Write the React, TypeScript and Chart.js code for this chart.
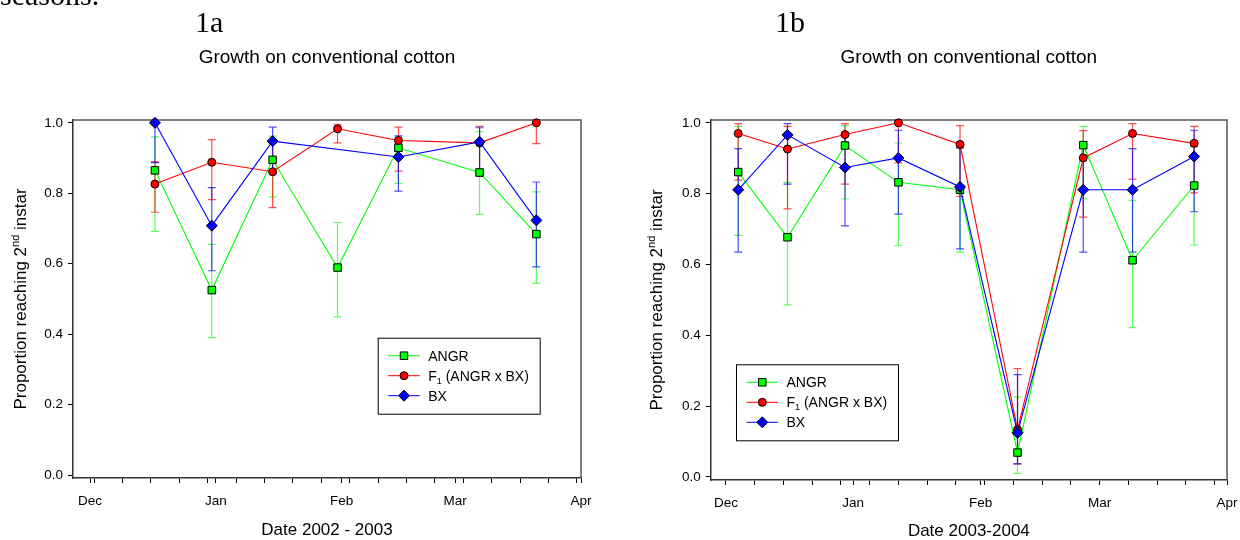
import React, { useEffect, useRef } from "react";
import { Chart, registerables } from "chart.js";

Chart.register(...registerables);

// ---------------- Data: panel 1a (2002 - 2003) ----------------
const datesA = ["2002-12-17", "2002-12-31", "2003-01-15", "2003-01-31", "2003-02-15", "2003-03-07", "2003-03-21"];
const angrA = [0.865, 0.525, 0.895, 0.589, 0.929, 0.859, 0.684];
const angrAHi = [0.96, 0.655, 0.962, 0.717, 0.952, 0.975, 0.804];
const angrALo = [0.692, 0.39, 0.789, 0.449, 0.828, 0.74, 0.544];
const f1A = [0.826, 0.888, 0.861, 0.983, 0.95, 0.943, 1.0];
const f1AHi = [0.89, 0.952, 0.942, 0.996, 0.988, 0.99, 1.0];
const f1ALo = [0.746, 0.782, 0.759, 0.943, 0.863, 0.848, 0.941];
const bxA = [1.0, 0.708, 0.948, null, 0.903, 0.946, 0.723];
const bxAHi = [1.0, 0.816, 0.988, null, 0.963, 0.986, 0.832];
const bxALo = [0.887, 0.58, 0.863, null, 0.806, 0.853, 0.591];
const monthStartsA = ["2002-12-01", "2003-01-01", "2003-02-01", "2003-03-01", "2003-04-01"];

// ---------------- Data: panel 1b (2003 - 2004) ----------------
const datesB = ["2003-12-04", "2003-12-16", "2003-12-30", "2004-01-12", "2004-01-27", "2004-02-10", "2004-02-26", "2004-03-09", "2004-03-24"];
const angrB = [0.861, 0.677, 0.936, 0.832, 0.811, 0.069, 0.937, 0.612, 0.823];
const angrBHi = [0.99, 0.832, 0.992, 0.943, 0.93, 0.226, 0.99, 0.781, 0.932];
const angrBLo = [0.682, 0.486, 0.785, 0.653, 0.635, 0.01, 0.786, 0.422, 0.655];
const f1B = [0.97, 0.926, 0.967, 1.0, 0.939, 0.134, 0.901, 0.97, 0.942];
const f1BHi = [0.998, 0.99, 0.998, 1.0, 0.992, 0.306, 0.978, 0.998, 0.99];
const f1BLo = [0.838, 0.757, 0.827, 0.887, 0.792, 0.037, 0.734, 0.841, 0.802];
const bxB = [0.811, 0.966, 0.874, 0.901, 0.819, 0.125, 0.811, 0.811, 0.905];
const bxBHi = [0.927, 0.998, 0.972, 0.979, 0.929, 0.289, 0.929, 0.927, 0.979];
const bxBLo = [0.635, 0.827, 0.709, 0.742, 0.644, 0.037, 0.635, 0.635, 0.749];
const monthStartsB = ["2003-12-01", "2004-01-01", "2004-02-01", "2004-03-01", "2004-04-01"];

const monthLabels = ["Dec", "Jan", "Feb", "Mar", "Apr"];
const yTickValues = [0, 0.2, 0.4, 0.6, 0.8, 1.0];

const SANS = '"Liberation Sans", Arial, sans-serif';
const SERIF = '"Liberation Serif", "Times New Roman", serif';

type PStyle = "rect" | "circle" | "rectRot";
type Series = {
  name: string;
  values: (number | null)[];
  hi: (number | null)[];
  lo: (number | null)[];
  color: string;
  errColor: string;
  point: PStyle;
  radius: number;
  order: number;
};

type Panel = {
  tag: string;
  title: string;
  xTitle: string;
  dates: string[];
  monthStarts: string[];
  firstMonday: string;
  xMinDays: number;
  series: Series[];
  canvasLeft: number;
  yAxisWidth: number;
  xAxisHeight: number;
  padRight: number;
  tagX: number;
  yTitleX: number;
  xTitleBaseline: number;
  legendX: number;
  legendY: number;
  topText?: string;
};

const GREEN = "#00ff00";
const RED = "#ff0000";
const BLUE = "#0000ff";
const GREEN_ERR = "rgba(40,255,40,0.75)";
const RED_ERR = "rgba(255,0,0,0.7)";
const BLUE_ERR = "rgba(0,0,255,0.7)";

function mkSeries(angr: (number | null)[], angrHi: (number | null)[], angrLo: (number | null)[],
  f1: (number | null)[], f1Hi: (number | null)[], f1Lo: (number | null)[],
  bx: (number | null)[], bxHi: (number | null)[], bxLo: (number | null)[]): Series[] {
  return [
    { name: "ANGR", values: angr, hi: angrHi, lo: angrLo, color: GREEN, errColor: GREEN_ERR, point: "rect", radius: 5.3, order: 3 },
    { name: "F1", values: f1, hi: f1Hi, lo: f1Lo, color: RED, errColor: RED_ERR, point: "circle", radius: 4, order: 2 },
    { name: "BX", values: bx, hi: bxHi, lo: bxLo, color: BLUE, errColor: BLUE_ERR, point: "rectRot", radius: 5.5, order: 1 },
  ];
}

const panelA: Panel = {
  tag: "1a",
  title: "Growth on conventional cotton",
  xTitle: "Date 2002 - 2003",
  dates: datesA,
  monthStarts: monthStartsA,
  firstMonday: "2002-12-02",
  xMinDays: -4.2,
  series: mkSeries(angrA, angrAHi, angrALo, f1A, f1AHi, f1ALo, bxA, bxAHi, bxALo),
  canvasLeft: 0,
  yAxisWidth: 73,
  xAxisHeight: 62,
  padRight: 39,
  tagX: 195,
  yTitleX: 20,
  xTitleBaseline: 535,
  legendX: 377.7,
  legendY: 337.7,
  topText: "seasons.",
};

const panelB: Panel = {
  tag: "1b",
  title: "Growth on conventional cotton",
  xTitle: "Date 2003-2004",
  dates: datesB,
  monthStarts: monthStartsB,
  firstMonday: "2003-12-01",
  xMinDays: -3.7,
  series: mkSeries(angrB, angrBHi, angrBLo, f1B, f1BHi, f1BLo, bxB, bxBHi, bxBLo),
  canvasLeft: 620,
  yAxisWidth: 90.7,
  xAxisHeight: 60,
  padRight: 13,
  tagX: 155,
  yTitleX: 36,
  xTitleBaseline: 536,
  legendX: 116,
  legendY: 364.3,
};

function dayOf(date: string, origin: string): number {
  return (Date.parse(date + "T00:00:00Z") - Date.parse(origin + "T00:00:00Z")) / 86400000;
}

function drawMarker(ctx: CanvasRenderingContext2D, style: PStyle, x: number, y: number, r: number, fill: string) {
  ctx.beginPath();
  if (style === "circle") ctx.arc(x, y, r, 0, Math.PI * 2);
  else if (style === "rect") {
    const s = r * Math.SQRT1_2;
    ctx.rect(x - s, y - s, 2 * s, 2 * s);
  } else {
    ctx.moveTo(x - r, y);
    ctx.lineTo(x, y - r);
    ctx.lineTo(x + r, y);
    ctx.lineTo(x, y + r);
    ctx.closePath();
  }
  ctx.fillStyle = fill;
  ctx.fill();
  ctx.strokeStyle = "#000";
  ctx.lineWidth = 1;
  ctx.stroke();
}

function PanelChart({ p }: { p: Panel }) {
  const ref = useRef<HTMLCanvasElement>(null);
  useEffect(() => {
    const origin = p.monthStarts[0];
    const days = p.dates.map((d) => dayOf(d, origin));
    const majors = p.monthStarts.map((d) => dayOf(d, origin));
    const xMax = majors[majors.length - 1];
    const ticks: number[] = [...majors];
    for (let d = dayOf(p.firstMonday, origin); d <= xMax + 0.01; d += 7) {
      if (!majors.some((m) => Math.abs(m - d) < 0.01)) ticks.push(d);
    }
    ticks.sort((a, b) => a - b);

    const datasets = p.series.map((s) => ({
      label: s.name,
      data: days.map((x, i) => ({ x, y: s.values[i] })),
      borderColor: s.color,
      backgroundColor: s.color,
      borderWidth: 1.1,
      pointStyle: s.point,
      pointRadius: s.radius,
      pointBackgroundColor: s.color,
      pointBorderColor: "#000",
      pointBorderWidth: 1,
      tension: 0,
      spanGaps: true,
      clip: false as any,
      order: s.order,
    }));

    const decor = {
      id: "decor",
      beforeDatasetsDraw(chart: any) {
        const ctx: CanvasRenderingContext2D = chart.ctx;
        const ca = chart.chartArea;
        const xs = chart.scales.x;
        const ys = chart.scales.y;
        ctx.save();
        // frame top & right
        ctx.strokeStyle = "#555";
        ctx.lineWidth = 1.5;
        ctx.beginPath();
        ctx.moveTo(ca.left, ca.top);
        ctx.lineTo(ca.right, ca.top);
        ctx.lineTo(ca.right, ca.bottom);
        ctx.stroke();
        // error bars
        for (const s of p.series) {
          ctx.strokeStyle = s.errColor;
          ctx.lineWidth = 1.2;
          days.forEach((d, i) => {
            const v = s.values[i];
            const hi = s.hi[i];
            const lo = s.lo[i];
            if (v === null || hi === null || lo === null) return;
            const x = xs.getPixelForValue(d);
            const yh = ys.getPixelForValue(hi);
            const yl = ys.getPixelForValue(lo);
            ctx.beginPath();
            ctx.moveTo(x, yh);
            ctx.lineTo(x, yl);
            ctx.moveTo(x - 4, yh);
            ctx.lineTo(x + 4, yh);
            ctx.moveTo(x - 4, yl);
            ctx.lineTo(x + 4, yl);
            ctx.stroke();
          });
        }
        ctx.restore();
      },
      afterDraw(chart: any) {
        const ctx: CanvasRenderingContext2D = chart.ctx;
        const ca = chart.chartArea;
        const cx = (ca.left + ca.right) / 2;
        const cy = (ca.top + ca.bottom) / 2;
        ctx.save();
        ctx.fillStyle = "#000";
        ctx.textBaseline = "alphabetic";
        // top fragment of previous text
        if (p.topText) {
          ctx.font = `30px ${SERIF}`;
          ctx.textAlign = "left";
          ctx.fillText(p.topText, 0, 5);
        }
        // panel tag
        ctx.font = `30px ${SERIF}`;
        ctx.textAlign = "left";
        ctx.fillText(p.tag, p.tagX, 32);
        // title
        ctx.font = `19px ${SANS}`;
        ctx.textAlign = "center";
        ctx.fillText(p.title, cx, 63);
        // x title
        ctx.font = `17px ${SANS}`;
        ctx.fillText(p.xTitle, cx, p.xTitleBaseline);
        // y title with superscript
        ctx.translate(p.yTitleX, cy);
        ctx.rotate(-Math.PI / 2);
        ctx.textAlign = "left";
        const t1 = "Proportion reaching 2";
        const t2 = "nd";
        const t3 = " instar";
        ctx.font = `17px ${SANS}`;
        const w1 = ctx.measureText(t1).width;
        const w3 = ctx.measureText(t3).width;
        ctx.font = `11px ${SANS}`;
        const w2 = ctx.measureText(t2).width;
        const total = w1 + w2 + w3;
        let x0 = -total / 2;
        ctx.font = `17px ${SANS}`;
        ctx.fillText(t1, x0, 6);
        x0 += w1;
        ctx.font = `11px ${SANS}`;
        ctx.fillText(t2, x0, -1);
        x0 += w2;
        ctx.font = `17px ${SANS}`;
        ctx.fillText(t3, x0, 6);
        ctx.restore();

        // legend
        ctx.save();
        const lx = p.legendX;
        const ly = p.legendY;
        const lw = 162;
        const lh = 76;
        ctx.fillStyle = "#fff";
        ctx.fillRect(lx, ly, lw, lh);
        ctx.strokeStyle = "#000";
        ctx.lineWidth = 1;
        ctx.strokeRect(lx + 0.5, ly + 0.5, lw, lh);
        const rows = [18, 38, 58];
        p.series.forEach((s, i) => {
          const ry = ly + rows[i];
          ctx.strokeStyle = s.color;
          ctx.lineWidth = 1;
          ctx.beginPath();
          ctx.moveTo(lx + 10.5, ry);
          ctx.lineTo(lx + 42, ry);
          ctx.stroke();
          drawMarker(ctx, s.point, lx + 26.3, ry, s.radius, s.color);
          ctx.fillStyle = "#000";
          ctx.textAlign = "left";
          ctx.textBaseline = "alphabetic";
          const tx = lx + 50.5;
          ctx.font = `14px ${SANS}`;
          if (s.name === "F1") {
            ctx.fillText("F", tx, ry + 5);
            const wf = ctx.measureText("F").width;
            ctx.font = `9px ${SANS}`;
            ctx.fillText("1", tx + wf, ry + 8);
            const w1s = ctx.measureText("1").width;
            ctx.font = `14px ${SANS}`;
            ctx.fillText(" (ANGR x BX)", tx + wf + w1s, ry + 5);
          } else {
            ctx.fillText(s.name, tx, ry + 5);
          }
        });
        ctx.restore();
      },
    };

    const chart = new Chart(ref.current as HTMLCanvasElement, {
      type: "line",
      data: { datasets: datasets as any },
      options: {
        animation: false,
        responsive: false,
        maintainAspectRatio: false,
        devicePixelRatio: 1,
        layout: { padding: { left: 0, top: 120, right: p.padRight, bottom: 0 } },
        plugins: { legend: { display: false }, tooltip: { enabled: false }, title: { display: false } },
        scales: {
          x: {
            type: "linear",
            min: p.xMinDays,
            max: xMax,
            afterBuildTicks: (scale: any) => {
              scale.ticks = ticks.map((v) => ({ value: v }));
            },
            afterFit: (scale: any) => {
              scale.height = p.xAxisHeight;
              scale.paddingLeft = 0;
              scale.paddingRight = 0;
            },
            ticks: {
              autoSkip: false,
              maxRotation: 0,
              padding: 10,
              color: "#000",
              font: { family: SANS, size: 13.5 },
              callback: (v: any) => {
                const idx = majors.findIndex((m) => Math.abs(m - Number(v)) < 0.01);
                return idx >= 0 ? monthLabels[idx] : "";
              },
            },
            grid: { drawOnChartArea: false, drawTicks: true, tickLength: 5, color: "#000", lineWidth: 1 },
            border: { display: true, color: "#333", width: 1.5 },
          },
          y: {
            type: "linear",
            min: -0.0085,
            max: 1.008,
            afterBuildTicks: (scale: any) => {
              scale.ticks = yTickValues.map((v) => ({ value: v }));
            },
            afterFit: (scale: any) => {
              scale.width = p.yAxisWidth;
            },
            ticks: {
              padding: 5,
              color: "#000",
              font: { family: SANS, size: 13.5 },
              callback: (v: any) => Number(v).toFixed(1),
            },
            grid: { drawOnChartArea: false, drawTicks: true, tickLength: 5, color: "#000", lineWidth: 1 },
            border: { display: true, color: "#333", width: 1.5 },
          },
        },
      } as any,
      plugins: [decor],
    });
    return () => chart.destroy();
  }, [p]);

  return (
    <canvas
      ref={ref}
      width={620}
      height={540}
      style={{ position: "absolute", left: p.canvasLeft, top: 0, width: 620, height: 540 }}
    />
  );
}

export default function App() {
  return (
    <div style={{ position: "fixed", left: 0, top: 0, width: 1240, height: 540, background: "#fff", overflow: "hidden" }}>
      <PanelChart p={panelA} />
      <PanelChart p={panelB} />
    </div>
  );
}
